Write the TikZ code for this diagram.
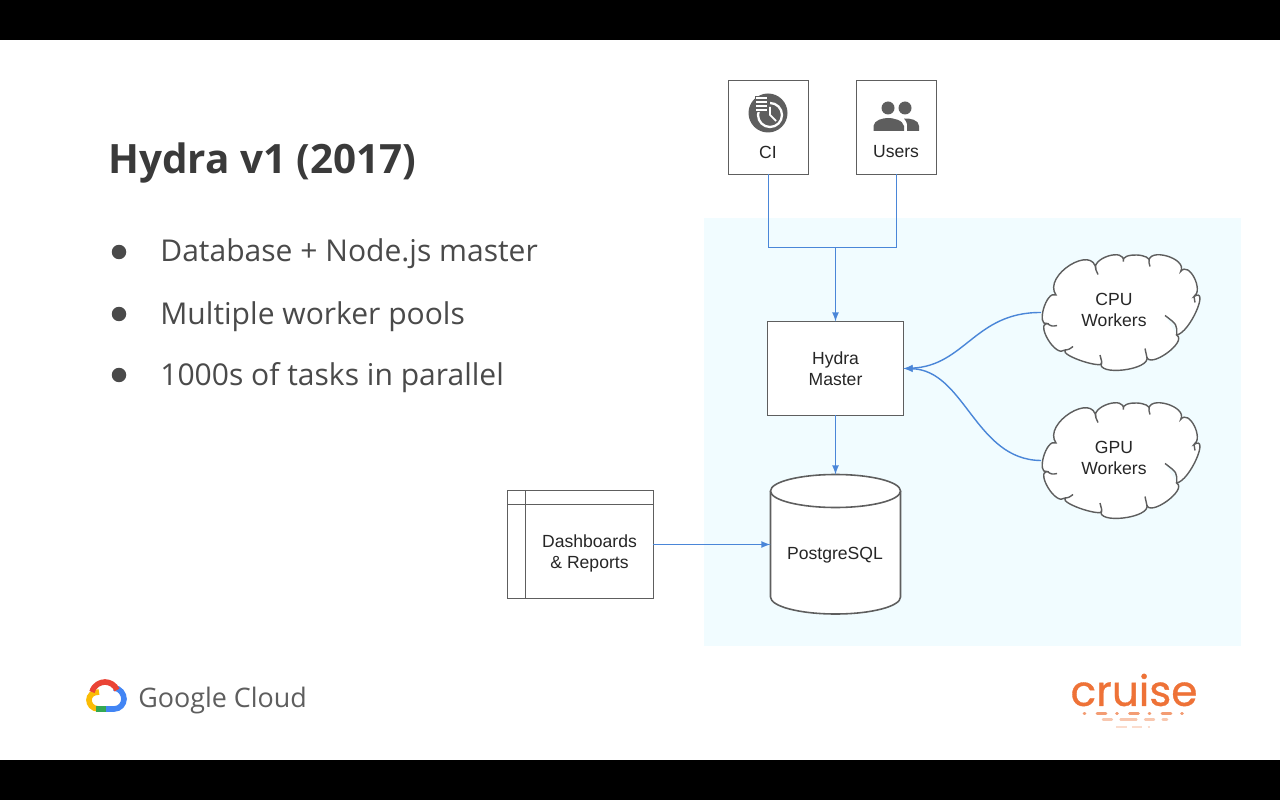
\documentclass[tikz,border=0pt]{standalone}
\usepackage{fontspec}
\setmainfont{Liberation Sans}
\newfontfamily\titlefont{Open Sans}
\newfontfamily\logofont[FakeBold=0.8]{Poppins}
\definecolor{panelblue}{HTML}{F1FCFF}
\definecolor{linkblue}{HTML}{4A86D8}
\definecolor{boxgray}{HTML}{5E5E5E}
\definecolor{titlegray}{HTML}{3A3A3A}
\definecolor{bulletgray}{HTML}{4A4A4A}
\definecolor{cruiseorange}{HTML}{EE7237}
\definecolor{logoblue}{HTML}{4285F4}
\definecolor{logored}{HTML}{EA4335}
\definecolor{logoyellow}{HTML}{FBBC05}
\definecolor{logogreen}{HTML}{34A853}
\tikzset{
	labeltext/.style={font=\fontsize{10}{12}\selectfont,text=black!85,align=center,inner sep=0pt},
	bulletitem/.style={font=\titlefont\fontsize{17.1}{20}\selectfont,text=bulletgray,anchor=base west,inner sep=0pt},
	bulletdot/.style={circle,fill=bulletgray,inner sep=0pt,minimum size=0.29cm},
	plainbox/.style={draw=boxgray,line width=0.9pt,fill=white,inner sep=0pt,outer sep=0pt},
	workerspot/.style={minimum width=3.16cm,minimum height=2.34cm,inner sep=0pt,outer sep=0pt},
	link/.style={draw=linkblue,line width=0.8pt},
	linkarrow/.style={link,-latex},
	logostroke/.style={line width=3.2pt},
}
\begin{document}
\begin{tikzpicture}[x=0.02cm,y=-0.02cm]
\useasboundingbox (0,0) rectangle (1280,800);
\fill[black] (0,0) rectangle (1280,800);
\fill[white] (0,40) rectangle (1280,760);
\fill[panelblue] (704,218) rectangle (1241,646);
% left text
\node[font=\titlefont\bfseries\fontsize{23}{28}\selectfont,text=titlegray,anchor=base west,inner sep=0pt] (title) at (108,174) {Hydra v1 (2017)};
\node[bulletdot] (dota) at (119,252) {};
\node[bulletdot] (dotb) at (119,314) {};
\node[bulletdot] (dotc) at (119,375) {};
\node[bulletitem] (itema) at (160,262) {Database + Node.js master};
\node[bulletitem] (itemb) at (160,324) {Multiple worker pools};
\node[bulletitem] (itemc) at (160,385) {1000s of tasks in parallel};
% boxes
\node[plainbox,minimum width=1.6cm,minimum height=1.88cm] (ci) at (768.5,127.5) {};
\node[plainbox,minimum width=1.6cm,minimum height=1.88cm] (users) at (896.5,127.5) {};
\node[labeltext] (cilabel) at (768,152) {CI};
\node[labeltext] (userslabel) at (896,152) {Users};
\node[plainbox,labeltext,minimum width=2.72cm,minimum height=1.88cm] (master) at (835.5,368.5) {Hydra\\Master};
\node[plainbox,minimum width=2.92cm,minimum height=2.16cm] (dash) at (580.5,544.5) {};
\node[labeltext] (dashlabel) at (589.5,553) {Dashboards\\\& Reports};
% database
\node[minimum width=2.6cm,minimum height=2.8cm,inner sep=0pt,outer sep=0pt] (db) at (835.5,544.5) {};
\draw[boxgray,line width=0.9pt,fill=white] (770.5,491) -- (770.5,597) arc[start angle=180,end angle=0,x radius=65,y radius=17] -- (900.5,491);
\draw[boxgray,line width=0.9pt,fill=white] (835.5,491) ellipse (65 and 16.5);
\node[labeltext] (dblabel) at (835,555) {PostgreSQL};
% clouds
\node[workerspot] (cpu) at (1120,312.5) {};
\node[workerspot] (gpu) at (1120,460.5) {};
\foreach \workername in {cpu,gpu}
	\draw[shift={(\workername.center)},boxgray,line width=0.8pt,fill=white]
		(-64,-17.5) .. controls (-78,-37) and (-26,-69.5) .. (-24,-42.5)
		.. controls (-29.9,-54.2) and (5.6,-65.3) .. (3.3,-51)
		.. controls (0.1,-60.5) and (33.6,-59.2) .. (29,-50)
		.. controls (26.7,-66) and (68,-54.4) .. (60.7,-41)
		.. controls (68.9,-52) and (84,-22) .. (74,-16)
		.. controls (90,-26) and (70,20) .. (56.7,22.5)
		.. controls (67.9,29.3) and (28.9,57.2) .. (26.7,44)
		.. controls (32.25,57.7) and (-26.25,64.5) .. (-18.3,49.2)
		.. controls (-12.8,58.45) and (-60.5,43.25) .. (-55,37.5)
		.. controls (-64.7,45.8) and (-84,11.3) .. (-73,11)
		.. controls (-84,14.3) and (-74,-22.8) .. cycle
		(56.7,22.5) .. controls (57,12) .. (45,3)
		(-73,11) .. controls (-68,14) .. (-63,13)
		(-24,-42.5) -- (-22,-38)
		(29,-50) -- (30,-46)
		(74,-16) -- (75,-10)
		(26.7,44) -- (25,36)
		(-18.3,49.2) -- (-20,42.5)
		(-55,37.5) .. controls (-51,37) .. (-47,34);
\node[labeltext] (cpulabel) at (1114,310) {CPU\\Workers};
\node[labeltext] (gpulabel) at (1114,458) {GPU\\Workers};
% window lines
\draw[boxgray,line width=0.9pt] (dash.north west) ++(0,14) -- ++(146,0);
\draw[boxgray,line width=0.9pt] (dash.north west) ++(18,0) -- ++(0,108);
% icons
\fill[boxgray] (768,113) circle(19.5);
\draw[white,line width=1.3pt] (770,115) circle(12);
\fill[boxgray] (755,96) rectangle (770,112);
\foreach \rowy in {98,102,106,110}
	\draw[white,line width=0.8pt] (756,\rowy) -- (767,\rowy);
\draw[white,line width=1pt] (770,107) -- (770,115) -- (776,121);
\fill[boxgray] (888,108) circle(6.5) (905,108) circle(6.5);
\fill[boxgray] (873.5,131) -- (873.5,126) .. controls (874,120) and (883,118) .. (888,118) .. controls (893,118) and (903,120) .. (904,126) -- (904,131) -- cycle;
\fill[boxgray] (907,131) -- (907,124) .. controls (907,122) and (905,120) .. (904,118.5) .. controls (910,118) and (919,120) .. (919,126) -- (919,131) -- cycle;
% connectors
\coordinate (busleft) at (768.5,247.5);
\coordinate (busright) at (896.5,247.5);
\coordinate (busmid) at (835.5,247.5);
\draw[link] (ci) -- (busleft) -- (busright) -- (users);
\draw[linkarrow] (busmid) -- (master);
\draw[linkarrow] (master) -- (db);
\draw[linkarrow] (dash.east) -- (db.west);
\draw[linkarrow] (cpu.west) .. controls (975,312) and (965,366) .. (master.east);
\draw[linkarrow] (gpu.west) .. controls (975,460) and (965,370) .. (master.east);
% google cloud logo
\draw[logostroke,logoyellow] (99,709) .. controls (92,709) and (89,704) .. (89,700) .. controls (89,696) and (92,692) .. (99,692);
\draw[logostroke,logoblue] (114,688) .. controls (120,688) and (124,694) .. (124,699) .. controls (124,704) and (120,709) .. (114,709) -- (106,709);
\draw[logostroke,logogreen] (96,709) -- (106,709);
\draw[logostroke,logored] (92,692) .. controls (94,685) and (100,682) .. (105,682) .. controls (110,682) and (115,685) .. (117,690);
\node[font=\titlefont\fontsize{15.3}{18}\selectfont,text=boxgray,anchor=base west,inner sep=0pt] (google) at (138,707) {Google Cloud};
% cruise logo
\node[font=\logofont\fontsize{24}{28}\selectfont,text=cruiseorange,inner sep=0pt] (cruise) at (1134,690) {cruise};
\draw[cruiseorange!70,line width=1.7pt,line cap=round,dash pattern=on 0.5pt off 7pt on 5pt off 6pt] (1084,713) -- (1186,713);
\draw[cruiseorange!40,line width=1.4pt,line cap=round,dash pattern=on 5pt off 5pt on 9pt off 5pt] (1103,719.5) -- (1167,719.5);
\draw[cruiseorange!25,line width=0.8pt,dash pattern=on 6pt off 3pt] (1116,727) -- (1150,727);
\end{tikzpicture}
\end{document}
